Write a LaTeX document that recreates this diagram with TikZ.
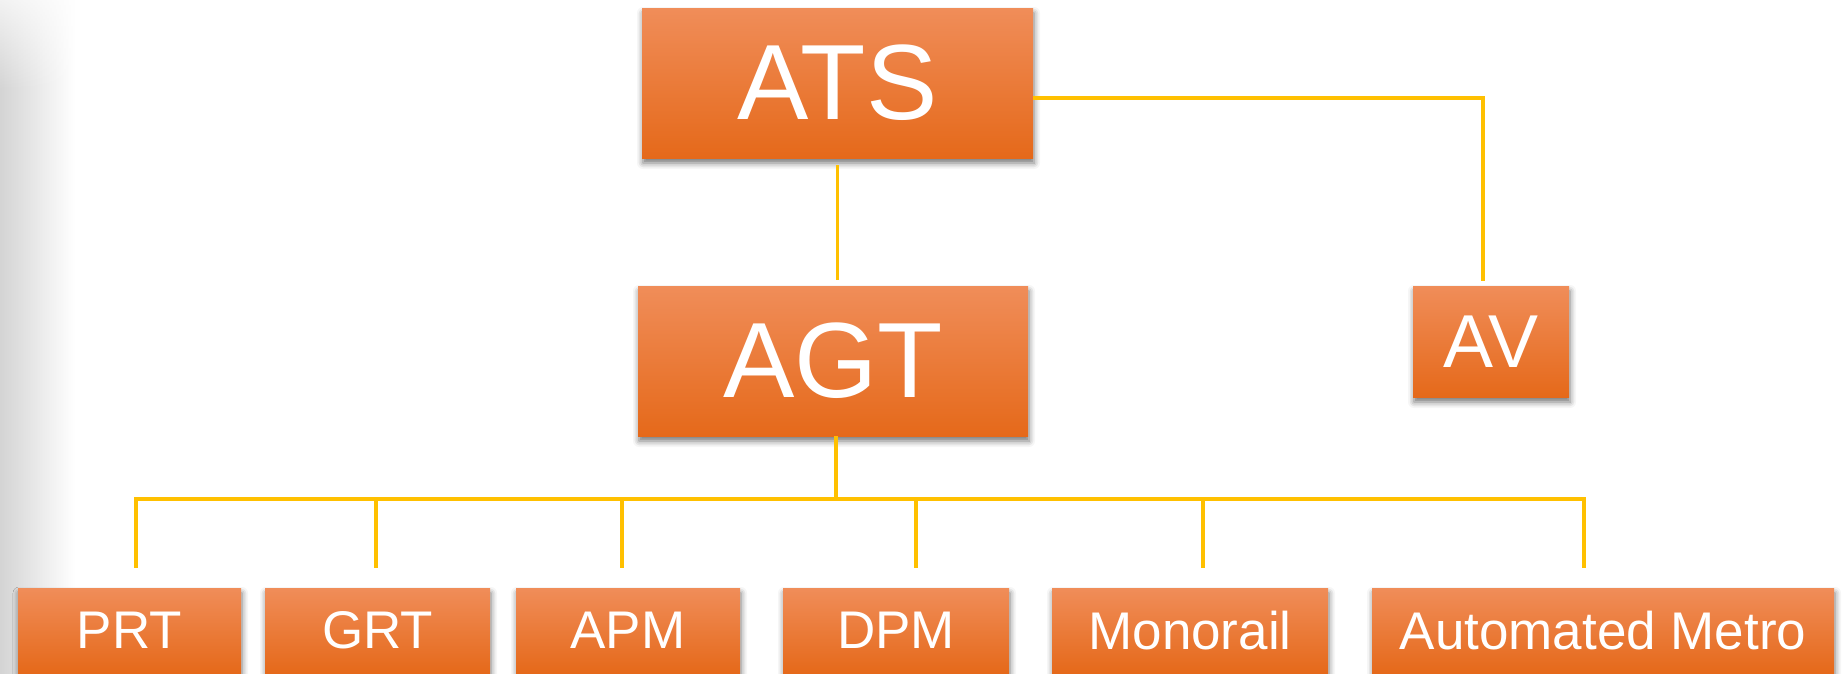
\documentclass[tikz,border=0pt]{standalone}
\usepackage{fontspec}
\setmainfont{Liberation Sans}
\usetikzlibrary{shadows.blur,fadings}
\definecolor{boxtop}{HTML}{F08D59}
\definecolor{boxmid}{HTML}{F47F2E}
\definecolor{boxbot}{HTML}{E5691A}
\definecolor{linkcol}{HTML}{FFC000}
\tikzset{
  block/.style={rectangle, inner sep=0pt, text=white,
    top color=boxtop, middle color=boxmid, bottom color=boxbot,
    blur shadow={shadow xshift=1pt, shadow yshift=-5pt,
      shadow blur radius=6pt, shadow opacity=55}},
  bigtext/.style={font=\fontsize{107pt}{120pt}\selectfont},
  midtext/.style={font=\fontsize{75pt}{85pt}\selectfont},
  smalltext/.style={font=\fontsize{53pt}{60pt}\selectfont},
  link/.style={draw=linkcol, line width=3.5pt, line join=miter},
}
\begin{document}
\begin{tikzpicture}[x=1pt,y=-1pt]
\useasboundingbox (0,0) rectangle (1846,673);
% soft page edge on the left, fainter towards the top
\shade[left color=black!17, right color=white] (0,0) rectangle (75,673);
\fill[white, path fading=south, opacity=0.7] (0,0) rectangle (75,90);

% top levels
\node[block, bigtext, minimum width=391pt, minimum height=150pt] (ATS) at (837.5,83) {ATS};
\node[block, bigtext, minimum width=390pt, minimum height=150pt] (AGT) at (833,361) {AGT};
\node[block, midtext, minimum width=156pt, minimum height=111pt] (AV) at (1491,341.5) {AV};

% bottom row
\node[block, smalltext, minimum width=223pt, minimum height=85pt] (PRT) at (129.5,630.5) {PRT};
\node[block, smalltext, minimum width=225pt, minimum height=85pt] (GRT) at (377.5,630.5) {GRT};
\node[block, smalltext, minimum width=224pt, minimum height=85pt] (APM) at (628,630.5) {APM};
\node[block, smalltext, minimum width=226pt, minimum height=85pt] (DPM) at (896,630.5) {DPM};
\node[block, smalltext, minimum width=276pt, minimum height=85pt] (MONO) at (1190,630.5) {Monorail};
\node[block, smalltext, minimum width=462pt, minimum height=85pt] (AM) at (1603,630.5) {Automated Metro};

% connector points
\coordinate (avturn) at (1483,98);
\coordinate (busC) at (836,499);
\coordinate (d1) at (136,499);
\coordinate (d2) at (376,499);
\coordinate (d3) at (622,499);
\coordinate (d4) at (916,499);
\coordinate (d5) at (1203,499);
\coordinate (d6) at (1584,499);

% connectors
\draw[link, shorten <=7pt, shorten >=6pt] (ATS.south) -- (ATS.south |- AGT.north);
\draw[link, shorten >=5pt] ([yshift=-15pt]ATS.east) -- (avturn) -- (avturn |- AV.north);
\draw[link] (AGT.south -| busC) -- (busC);
\draw[link, shorten <=20pt, shorten >=20pt] (d1 |- PRT.north) -- (d1) -- (d6) -- (d6 |- AM.north);
\draw[link, shorten >=20pt] (d2) -- (d2 |- GRT.north);
\draw[link, shorten >=20pt] (d3) -- (d3 |- APM.north);
\draw[link, shorten >=20pt] (d4) -- (d4 |- DPM.north);
\draw[link, shorten >=20pt] (d5) -- (d5 |- MONO.north);
\end{tikzpicture}
\end{document}
